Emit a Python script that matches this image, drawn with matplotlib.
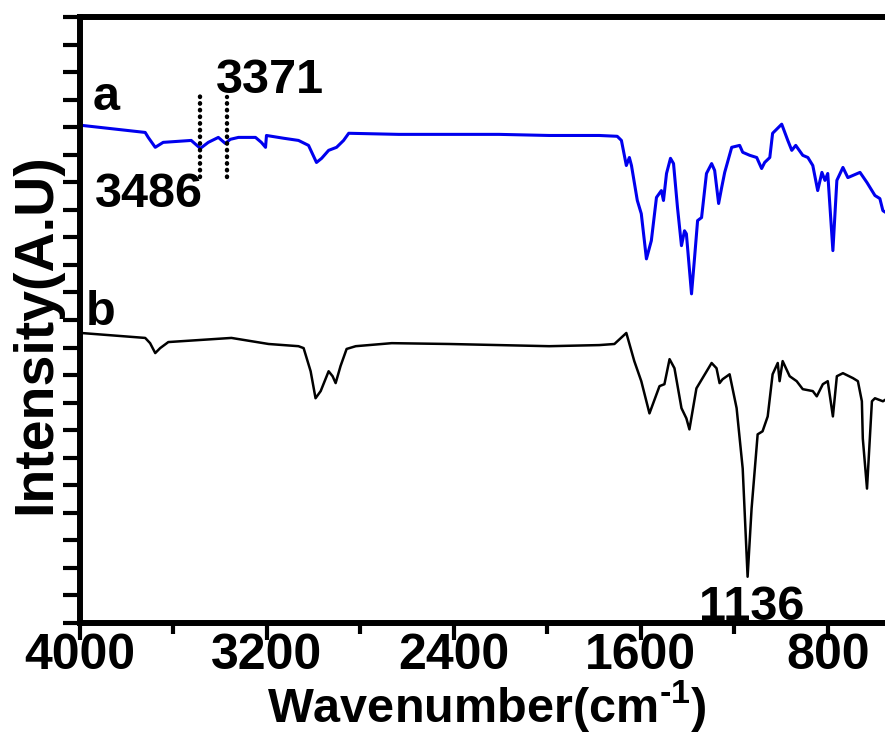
import numpy as np
import matplotlib
matplotlib.use("Agg")
import matplotlib.pyplot as plt

plt.rcParams['font.family'] = ['Liberation Sans', 'DejaVu Sans']
plt.rcParams['font.weight'] = 'bold'
plt.rcParams['mathtext.fontset'] = 'custom'
plt.rcParams['mathtext.rm'] = 'Liberation Sans:bold'
plt.rcParams['mathtext.bf'] = 'Liberation Sans:bold'

# spectrum a (blue)
wa = [3996, 3721, 3708, 3678, 3644, 3524, 3485, 3451, 3408, 3378, 3357, 3322, 3249, 3224,
      3206, 3202, 3129, 3065, 3022, 2988, 2966, 2936, 2902, 2872, 2850, 2636, 2207, 1992,
      1778, 1701, 1683, 1662, 1649, 1640, 1615, 1598, 1576, 1555, 1533, 1512, 1503, 1490,
      1473, 1460, 1443, 1426, 1413, 1405, 1383, 1370, 1357, 1340, 1319, 1297, 1284, 1267,
      1254, 1241, 1211, 1177, 1164, 1134, 1104, 1083, 1070, 1048, 1036, 997, 971, 954,
      937, 907, 885, 864, 843, 825, 812, 800, 778, 761, 735, 714, 662, 632, 598, 577, 564, 551]
ia = [18.07, 17.81, 17.63, 17.27, 17.45, 17.52, 17.23, 17.45, 17.63, 17.41, 17.56, 17.63, 17.63, 17.45,
      17.27, 17.70, 17.60, 17.52, 17.34, 16.72, 16.87, 17.16, 17.27, 17.52, 17.78, 17.74, 17.74, 17.70,
      17.70, 17.67, 17.52, 16.61, 16.90, 16.61, 15.34, 14.86, 13.22, 13.88, 15.45, 15.70, 15.34, 16.32,
      16.87, 16.68, 15.08, 13.70, 14.24, 14.13, 11.95, 13.26, 14.61, 14.72, 16.32, 16.68, 16.43, 15.23,
      15.81, 16.36, 17.27, 17.34, 17.09, 16.98, 16.90, 16.50, 16.72, 16.90, 17.78, 18.11, 17.52, 17.16,
      17.34, 16.98, 16.90, 16.61, 15.70, 16.36, 16.07, 16.32, 13.52, 16.07, 16.54, 16.17, 16.36, 15.99,
      15.52, 15.41, 14.97, 14.90]

# spectrum b (black)
wb = [3996, 3721, 3700, 3678, 3657, 3622, 3352, 3193, 3065, 3043, 3013, 2992, 2970, 2936,
      2919, 2906, 2885, 2859, 2820, 2666, 2421, 1992, 1778, 1713, 1662, 1628, 1598, 1563,
      1520, 1499, 1477, 1456, 1426, 1405, 1392, 1362, 1297, 1276, 1263, 1250, 1220, 1190,
      1164, 1143, 1126, 1100, 1079, 1057, 1036, 1014, 1006, 993, 963, 933, 907, 864,
      847, 821, 800, 778, 761, 735, 692, 671, 654, 650, 632, 611, 598, 564, 551]
ib = [10.53, 10.35, 10.16, 9.80, 9.98, 10.20, 10.35, 10.13, 10.05, 9.98, 9.14, 8.16, 8.42, 9.14,
      8.96, 8.71, 9.33, 9.95, 10.05, 10.16, 10.13, 10.05, 10.09, 10.13, 10.53, 9.51, 8.78, 7.61,
      8.60, 8.67, 9.58, 9.25, 7.80, 7.43, 7.03, 8.52, 9.44, 9.25, 8.71, 8.85, 9.03, 7.80,
      5.61, 1.68, 4.15, 6.85, 6.96, 7.50, 9.03, 9.44, 8.78, 9.51, 8.96, 8.78, 8.49, 8.42,
      8.23, 8.67, 8.78, 7.50, 8.96, 9.07, 8.89, 8.78, 8.05, 6.70, 4.88, 8.05, 8.16, 8.05, 8.12]

xticks = [4000, 3200, 2400, 1600, 800]
xminor = [3600, 2800, 2000, 1200]
peaks = [3486, 3371]

fig = plt.figure(figsize=(8.85, 7.34), dpi=100)
ax = fig.add_axes([0.0904, 0.1512, 0.9096, 0.8256])

ax.plot(wa, ia, color="#0000ee", lw=2.2)
ax.plot(wb, ib, color="black", lw=1.8)

# dotted markers for the two O-H peaks
ax.plot([peaks[0], peaks[0]], [16.2, 19.3], color="black", lw=3.2,
        ls=(0, (0.1, 1.4)), dash_capstyle="round")
ax.plot([peaks[1], peaks[1]], [16.2, 19.1], color="black", lw=3.2,
        ls=(0, (0.1, 1.4)), dash_capstyle="round")

ax.text(3889, 18.62, "a", fontsize=35, ha="center", va="baseline")
ax.text(3910, 10.82, "b", fontsize=35, ha="center", va="baseline")
ax.text(3187, 19.24, "3371", fontsize=35, ha="center", va="baseline")
ax.text(3705, 15.10, "3486", fontsize=35, ha="center", va="baseline")
ax.text(1124, 0.11, "1136", fontsize=35, ha="center", va="baseline")

ax.set_xlim(4000, 555)
ax.set_ylim(0, 22)
ax.set_xticks(xticks)
ax.set_xticks(xminor, minor=True)
ax.set_yticks(np.arange(0, 23, 1))
ax.set_yticklabels([])
ax.tick_params(axis="x", which="major", direction="out", length=12, width=3, labelsize=36, pad=-5)
ax.tick_params(axis="x", which="minor", direction="out", length=8, width=3)
ax.tick_params(axis="y", direction="out", length=12, width=3)
for s in ["left", "bottom", "top"]:
    ax.spines[s].set_linewidth(4.3)
ax.spines["right"].set_visible(False)

ax.set_xlabel(r"Wavenumber(cm$^{\text{-1}}$)", fontsize=35, fontweight="bold")
ax.xaxis.set_label_coords(0.5056, -0.09)
ax.set_ylabel("Intensity(A.U)", fontsize=40, fontweight="bold")
ax.yaxis.set_label_coords(-0.022, 0.478)

fig.savefig("out.png", dpi=100)
